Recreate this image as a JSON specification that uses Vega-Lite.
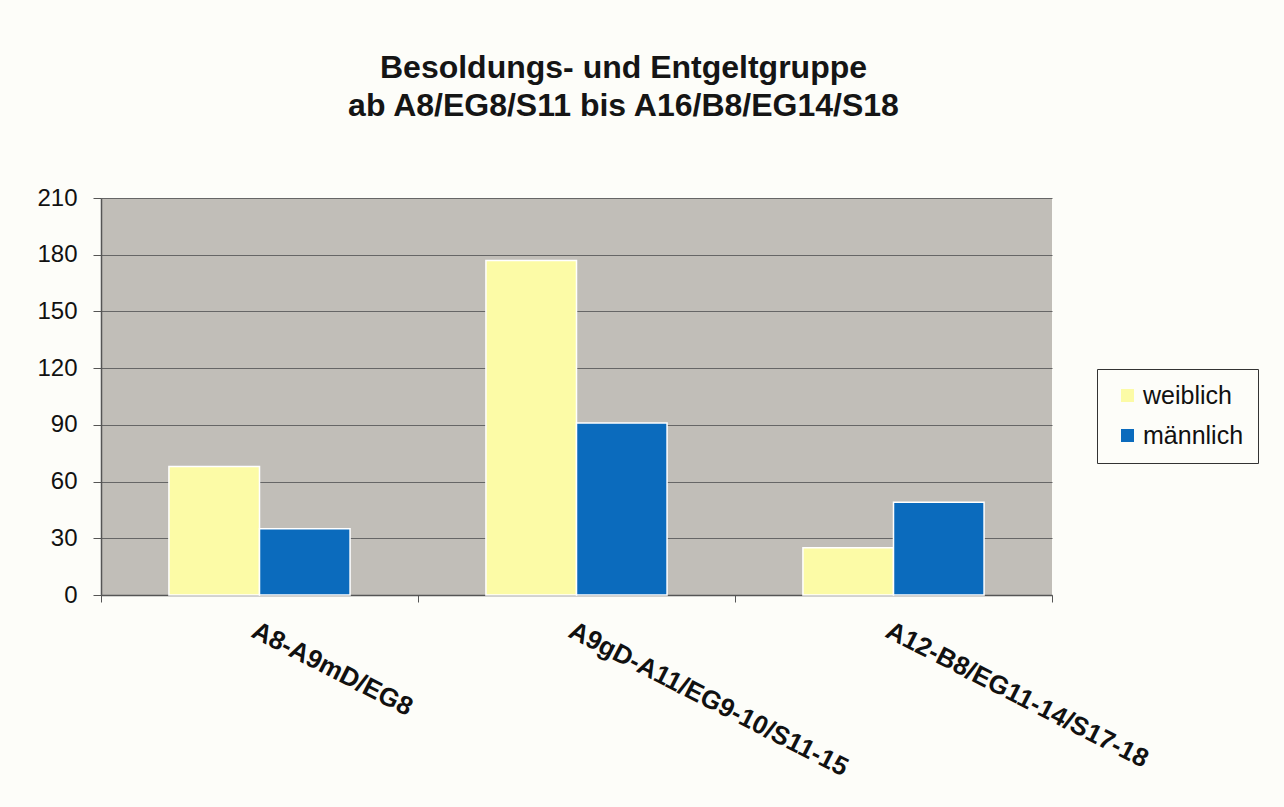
{
  "$schema": "https://vega.github.io/schema/vega-lite/v6.json",
  "width": 951,
  "height": 397,
  "autosize": "none",
  "padding": {"left": 101, "top": 198, "right": 232, "bottom": 212},
  "background": "#fdfdf9",
  "title": {
    "text": ["Besoldungs- und Entgeltgruppe", "ab A8/EG8/S11 bis A16/B8/EG14/S18"],
    "font": "Liberation Sans",
    "fontSize": 32,
    "fontWeight": "bold",
    "color": "#151515",
    "anchor": "middle",
    "dx": 47,
    "offset": 63,
    "lineHeight": 38
  },
  "data": {
    "values": [
      {"gruppe": "A8-A9mD/EG8", "geschlecht": "weiblich", "anzahl": 68},
      {"gruppe": "A8-A9mD/EG8", "geschlecht": "männlich", "anzahl": 35},
      {"gruppe": "A9gD-A11/EG9-10/S11-15", "geschlecht": "weiblich", "anzahl": 177},
      {"gruppe": "A9gD-A11/EG9-10/S11-15", "geschlecht": "männlich", "anzahl": 91},
      {"gruppe": "A12-B8/EG11-14/S17-18", "geschlecht": "weiblich", "anzahl": 25},
      {"gruppe": "A12-B8/EG11-14/S17-18", "geschlecht": "männlich", "anzahl": 49}
    ]
  },
  "layer": [
    {
      "mark": {"type": "bar", "stroke": "#ffffff", "strokeWidth": 1.5},
      "encoding": {
        "x": {
          "field": "gruppe",
          "type": "nominal",
          "sort": null,
          "scale": {"paddingInner": 0.4286, "paddingOuter": 0.2143},
          "axis": {
            "orient": "bottom",
            "title": null,
            "labelAngle": 27,
            "labelAlign": "left",
            "labelBaseline": "top",
            "labelFont": "Liberation Sans",
            "labelFontWeight": "bold",
            "labelFontSize": 26,
            "labelColor": "#111111",
            "labelPadding": 22,
            "ticks": false,
            "domainColor": "#555555",
            "labelLimit": 0
          }
        },
        "xOffset": {"field": "geschlecht", "type": "nominal", "sort": ["weiblich", "männlich"]},
        "y": {
          "field": "anzahl",
          "type": "quantitative",
          "scale": {"domain": [0, 210], "nice": false},
          "axis": {
            "title": null,
            "values": [0, 30, 60, 90, 120, 150, 180, 210],
            "grid": true,
            "gridColor": "#666666",
            "gridWidth": 1,
            "tickSize": 8,
            "tickColor": "#555555",
            "domainColor": "#555555",
            "labelFont": "Liberation Sans",
            "labelFontSize": 24,
            "labelColor": "#111111",
            "labelPadding": 16
          }
        },
        "color": {
          "field": "geschlecht",
          "type": "nominal",
          "sort": ["weiblich", "männlich"],
          "scale": {"domain": ["weiblich", "männlich"], "range": ["#fcfba6", "#0b6bbd"]},
          "legend": {
            "title": null,
            "orient": "none",
            "legendX": 996,
            "legendY": 171,
            "symbolType": "square",
            "symbolSize": 170,
            "symbolStrokeWidth": 0,
            "symbolOffset": 4,
            "labelOffset": 3,
            "labelFont": "Liberation Sans",
            "labelFontSize": 25,
            "labelColor": "#111111",
            "rowPadding": 14,
            "padding": 14,
            "strokeColor": "#333333",
            "fillColor": "#fdfdf9",
            "cornerRadius": 0
          }
        }
      }
    },
    {
      "mark": {"type": "point", "opacity": 0},
      "encoding": {
        "x": {
          "datum": 0,
          "type": "quantitative",
          "scale": {"domain": [0, 3], "nice": false, "zero": false},
          "axis": {
            "orient": "bottom",
            "title": null,
            "values": [0, 1, 2, 3],
            "labels": false,
            "domain": false,
            "grid": false,
            "ticks": true,
            "tickSize": 7,
            "tickColor": "#555555"
          }
        },
        "y": {"datum": 0, "type": "quantitative"}
      }
    }
  ],
  "resolve": {"scale": {"x": "independent"}, "axis": {"x": "independent"}},
  "config": {
    "view": {"fill": "#c1beb8", "stroke": null},
    "axis": {"domainWidth": 1.5}
  }
}
